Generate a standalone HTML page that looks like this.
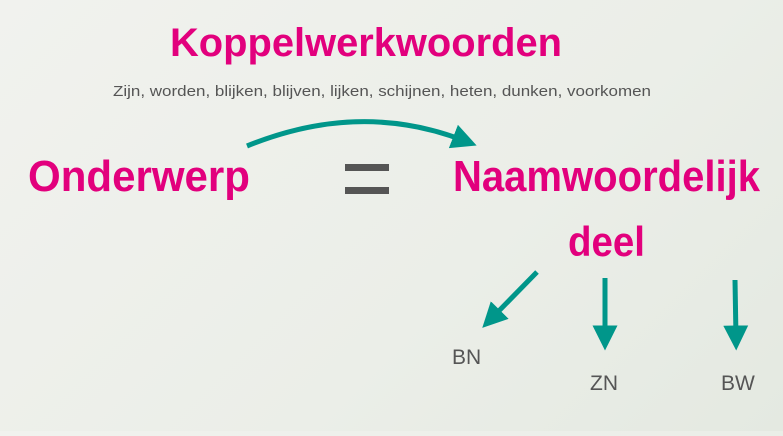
<!DOCTYPE html>
<html><head><meta charset="utf-8"><style>
html,body{margin:0;padding:0}
body{width:783px;height:431px;overflow:hidden;background:linear-gradient(135deg,#f1f2ee 0%,#ebeee8 60%,#e4e9e1 100%)}
</style></head><body>
<svg width="783" height="431" viewBox="0 0 783 431" xmlns="http://www.w3.org/2000/svg">
<defs>
<marker id="a" markerWidth="5" markerHeight="5" refX="2.5" refY="2.5" orient="auto" markerUnits="strokeWidth"><path d="M0,0 L5,2.5 L0,5 Z" fill="#00968a"/></marker>
</defs>
<g font-family="Liberation Sans, sans-serif" font-weight="bold" fill="#e2007d">
<text x="170" y="56" font-size="40" textLength="392" lengthAdjust="spacingAndGlyphs">Koppelwerkwoorden</text>
<text x="28" y="191" font-size="44" textLength="222" lengthAdjust="spacingAndGlyphs">Onderwerp</text>
<text x="453" y="191" font-size="44" textLength="307" lengthAdjust="spacingAndGlyphs">Naamwoordelijk</text>
<text x="568" y="256" font-size="42" textLength="77" lengthAdjust="spacingAndGlyphs">deel</text>
</g>
<text x="113" y="96" font-family="Liberation Sans, sans-serif" font-size="15" fill="#555" textLength="538" lengthAdjust="spacingAndGlyphs">Zijn, worden, blijken, blijven, lijken, schijnen, heten, dunken, voorkomen</text>
<rect x="345" y="164" width="44" height="7" fill="#555"/>
<rect x="345" y="187" width="44" height="7" fill="#555"/>
<g stroke="#00968a" stroke-width="5" fill="none" marker-end="url(#a)">
<path d="M247,146 Q360,100 465,141"/>
<path d="M537,272 L491,319"/>
<path d="M605,278 L605,338"/>
<path d="M735,280 L736,338"/>
</g>
<g font-family="Liberation Sans, sans-serif" font-size="21" fill="#555">
<text x="452" y="364">BN</text>
<text x="590" y="390">ZN</text>
<text x="721" y="390">BW</text>
</g>
</svg>
</body></html>
